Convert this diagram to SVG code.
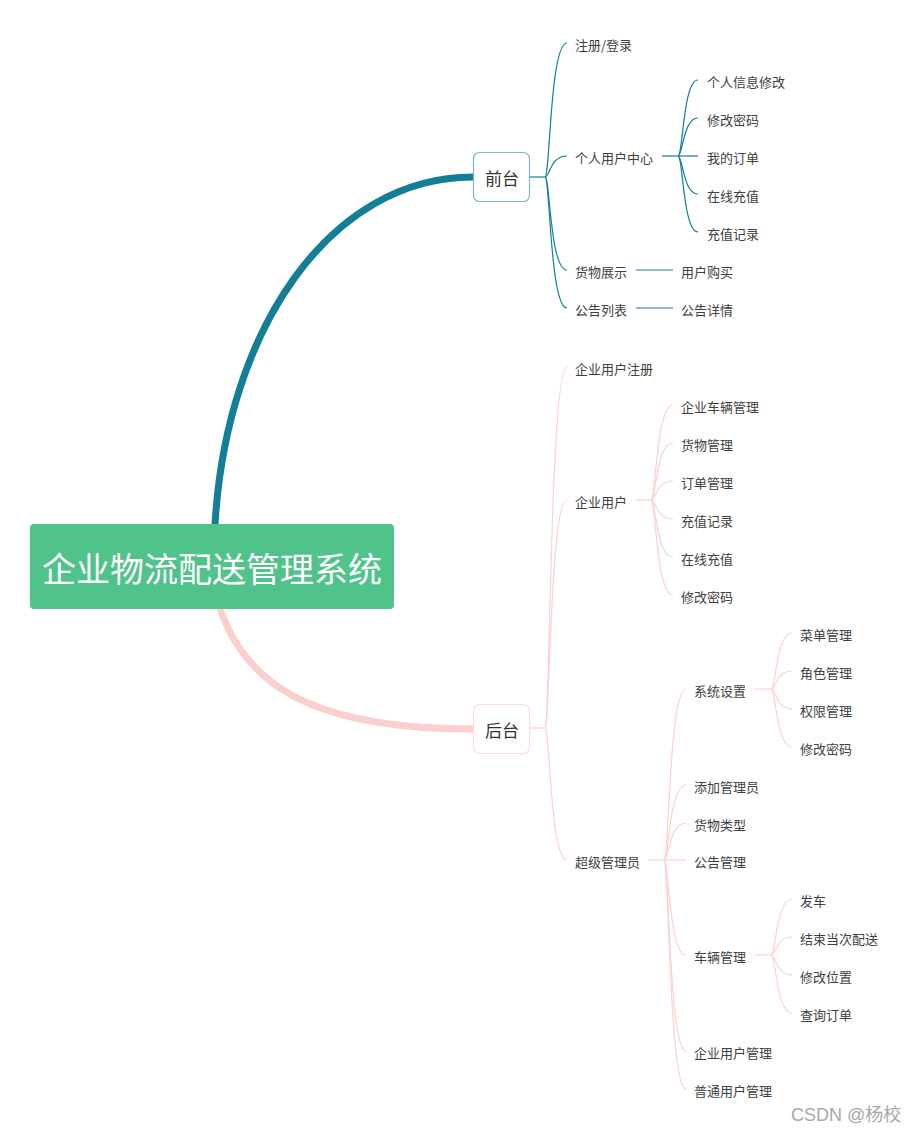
<svg xmlns="http://www.w3.org/2000/svg" width="917" height="1134" viewBox="0 0 917 1134">
<style>
text{font-family:"Noto Sans CJK SC","Noto Sans",sans-serif;dominant-baseline:central}
.t{font-size:13px;fill:#404040}
.b{font-size:17px;fill:#333;text-anchor:middle}
.teal{fill:none;stroke:#137f96;stroke-width:1.2}
.pink{fill:none;stroke:#fdd0d0;stroke-width:1.2}
</style>
<rect width="917" height="1134" fill="#fff"/>
<g id="connectors">
<path d="M215,525 C226,330 330,177 473,177" fill="none" stroke="#137f96" stroke-width="7"/>
<path d="M220,608 C250,700 340,729 473,729" fill="none" stroke="#fccfcf" stroke-width="7"/>
<g class="teal">
<path d="M530,177 L545,177"/>
<path d="M545,177 C550,177 550,43 567,43"/>
<path d="M545,177 C550,177 550,156 567,156"/>
<path d="M545,177 C550,177 550,270 567,270"/>
<path d="M545,177 C550,177 550,308 567,308"/>
<path d="M662,156 L678,156"/>
<path d="M678,156 C683,156 683,80 698,80"/>
<path d="M678,156 C683,156 683,118 698,118"/>
<path d="M678,156 L698,156"/>
<path d="M678,156 C683,156 683,194 698,194"/>
<path d="M678,156 C683,156 683,232 698,232"/>
<path d="M636,270 L673,270"/>
<path d="M636,308 L673,308"/>
</g>
<g class="pink">
<path d="M530,728 L545,728"/>
<path d="M545,728 C550,728 550,367 567,367"/>
<path d="M545,728 C550,728 550,500 567,500"/>
<path d="M545,728 C550,728 550,860 567,860"/>
<path d="M636,500 L651,500"/>
<path d="M651,500 C656,500 656,405 673,405"/>
<path d="M651,500 C656,500 656,443 673,443"/>
<path d="M651,500 C656,500 656,481 673,481"/>
<path d="M651,500 C656,500 656,519 673,519"/>
<path d="M651,500 C656,500 656,557 673,557"/>
<path d="M651,500 C656,500 656,595 673,595"/>
<path d="M648,860 L664,860"/>
<path d="M664,860 C669,860 669,689 686,689"/>
<path d="M664,860 C669,860 669,785 686,785"/>
<path d="M664,860 C669,860 669,823 686,823"/>
<path d="M664,860 L686,860"/>
<path d="M664,860 C669,860 669,955 686,955"/>
<path d="M664,860 C669,860 669,1051 686,1051"/>
<path d="M664,860 C669,860 669,1089 686,1089"/>
<path d="M755,689 L771,689"/>
<path d="M771,689 C776,689 776,633 792,633"/>
<path d="M771,689 C776,689 776,671 792,671"/>
<path d="M771,689 C776,689 776,709 792,709"/>
<path d="M771,689 C776,689 776,747 792,747"/>
<path d="M755,955 L771,955"/>
<path d="M771,955 C776,955 776,899 792,899"/>
<path d="M771,955 C776,955 776,937 792,937"/>
<path d="M771,955 C776,955 776,975 792,975"/>
<path d="M771,955 C776,955 776,1013 792,1013"/>
</g>
</g>
<g id="root">
<rect x="30" y="524" width="364" height="85" rx="4" fill="#50c38b"/>
<text x="212" y="567" style="font-size:34px;fill:#fff;text-anchor:middle">企业物流配送管理系统</text>
</g>
<g id="qiantai">
<rect x="473.5" y="152.5" width="56" height="49" rx="6" fill="#fff" stroke="#7ab8c8" stroke-width="1.2"/>
<text class="b" x="502" y="177">前台</text>
</g>
<g id="houtai">
<rect x="473.5" y="704.5" width="56" height="49" rx="6" fill="#fff" stroke="#fddcdc" stroke-width="1.2"/>
<text class="b" x="502" y="729">后台</text>
</g>
<g transform="translate(0,-1)">
<g id="n-front">
<text class="t" x="575" y="45">注册/登录</text>
<text class="t" x="575" y="158">个人用户中心</text>
<text class="t" x="575" y="272">货物展示</text>
<text class="t" x="575" y="310">公告列表</text>
</g>
<g id="n-personal">
<text class="t" x="707" y="82">个人信息修改</text>
<text class="t" x="707" y="120">修改密码</text>
<text class="t" x="707" y="158">我的订单</text>
<text class="t" x="707" y="196">在线充值</text>
<text class="t" x="707" y="234">充值记录</text>
</g>
<g id="n-goods"><text class="t" x="681" y="272">用户购买</text></g>
<g id="n-notice"><text class="t" x="681" y="310">公告详情</text></g>
<g id="n-back">
<text class="t" x="575" y="369">企业用户注册</text>
<text class="t" x="575" y="502">企业用户</text>
<text class="t" x="575" y="862">超级管理员</text>
</g>
<g id="n-enterprise">
<text class="t" x="681" y="407">企业车辆管理</text>
<text class="t" x="681" y="445">货物管理</text>
<text class="t" x="681" y="483">订单管理</text>
<text class="t" x="681" y="521">充值记录</text>
<text class="t" x="681" y="559">在线充值</text>
<text class="t" x="681" y="597">修改密码</text>
</g>
<g id="n-admin">
<text class="t" x="694" y="691">系统设置</text>
<text class="t" x="694" y="787">添加管理员</text>
<text class="t" x="694" y="825">货物类型</text>
<text class="t" x="694" y="862">公告管理</text>
<text class="t" x="694" y="957">车辆管理</text>
<text class="t" x="694" y="1053">企业用户管理</text>
<text class="t" x="694" y="1091">普通用户管理</text>
</g>
<g id="n-settings">
<text class="t" x="800" y="635">菜单管理</text>
<text class="t" x="800" y="673">角色管理</text>
<text class="t" x="800" y="711">权限管理</text>
<text class="t" x="800" y="749">修改密码</text>
</g>
<g id="n-vehicle">
<text class="t" x="800" y="901">发车</text>
<text class="t" x="800" y="939">结束当次配送</text>
<text class="t" x="800" y="977">修改位置</text>
<text class="t" x="800" y="1015">查询订单</text>
</g>
</g>
<g id="watermark"><text x="791" y="1115" style="font-family:'Liberation Sans','Noto Sans CJK SC',sans-serif;font-size:18px;fill:#a8a8a8">CSDN @杨校</text></g>
</svg>
